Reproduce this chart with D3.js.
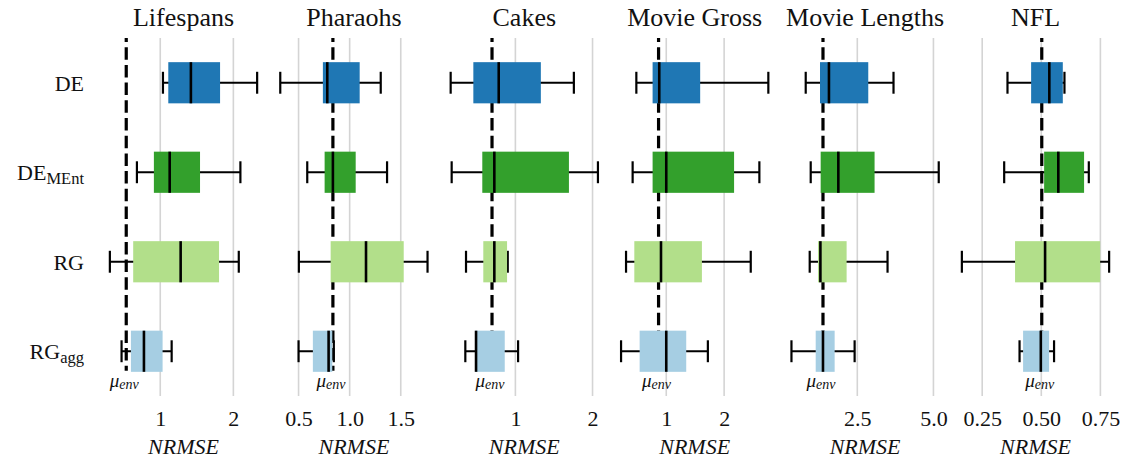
<!DOCTYPE html>
<html>
<head>
<meta charset="utf-8">
<script src="https://cdn.jsdelivr.net/npm/d3@7"></script>
<style>
  html, body { margin: 0; padding: 0; background: #fff; }
  svg { display: block; }
  svg text { font-family: "Liberation Serif", "Times New Roman", serif; }
</style>
</head>
<body>
<svg id="chart" width="1123" height="459" font-family="Liberation Serif"></svg>
<script>
// Methods (rows) and datasets (panels)
const methods = ["DE", "DE_MEnt", "RG", "RG_agg"];
const methodMain = ["DE", "DE", "RG", "RG"];
const methodSub = ["", "MEnt", "", "agg"];
const methodColors = ["#1f77b4", "#33a02c", "#b2df8a", "#a6cee3"];

const datasets = ["Lifespans", "Pharaohs", "Cakes", "Movie Gross", "Movie Lengths", "NFL"];

// Environment mean NRMSE per dataset (dashed reference line)
const muEnv = [0.535, 0.836, 0.697, 0.867, 1.373, 0.502];

// Tick values and their labels per dataset
const tickValues = [[1, 2], [0.5, 1.0, 1.5], [1, 2], [1, 2], [2.5, 5.0], [0.25, 0.5, 0.75]];
const tickLabels = [["1", "2"], ["0.5", "1.0", "1.5"], ["1", "2"], ["1", "2"], ["2.5", "5.0"], ["0.25", "0.50", "0.75"]];

// Box statistics per method: [lower whisker, Q1, median, Q3, upper whisker]
const lifespans = [
  [1.037, 1.110, 1.419, 1.818, 2.325],
  [0.681, 0.913, 1.129, 1.544, 2.096],
  [0.311, 0.630, 1.279, 1.804, 2.074],
  [0.471, 0.599, 0.777, 1.032, 1.156]
];
const pharaohs = [
  [0.321, 0.738, 0.781, 1.098, 1.304],
  [0.585, 0.755, 0.836, 1.059, 1.366],
  [0.503, 0.814, 1.160, 1.529, 1.762],
  [0.500, 0.640, 0.794, 0.830, 0.845]
];
const cakes = [
  [0.161, 0.455, 0.784, 1.330, 1.758],
  [0.174, 0.571, 0.727, 1.694, 2.070],
  [0.360, 0.584, 0.727, 0.892, 0.901],
  [0.351, 0.481, 0.490, 0.862, 1.035]
];
const movieGross = [
  [0.483, 0.764, 0.879, 1.586, 2.764],
  [0.419, 0.764, 1.000, 2.172, 2.609],
  [0.305, 0.448, 0.909, 1.616, 2.460],
  [0.219, 0.540, 1.000, 1.345, 1.719]
];
const movieLengths = [
  [0.806, 1.275, 1.569, 2.860, 3.689],
  [0.970, 1.297, 1.877, 3.067, 5.174],
  [0.937, 1.209, 1.288, 2.149, 3.493],
  [0.338, 1.134, 1.373, 1.756, 2.412]
];
const nfl = [
  [0.357, 0.457, 0.534, 0.591, 0.598],
  [0.343, 0.512, 0.572, 0.681, 0.701],
  [0.164, 0.389, 0.516, 0.749, 0.787],
  [0.408, 0.423, 0.498, 0.533, 0.554]
];
const stats = [lifespans, pharaohs, cakes, movieGross, movieLengths, nfl];

// ---- layout ----
const FONT = "Liberation Serif";
const svg = d3.select("#chart");
const panelLeft = 102.5, panelStep = 170.4, panelWidth = 162;
const plotTop = 38, plotBottom = 396;

const y = d3.scaleBand().domain(methods).range([plotTop, plotBottom]);
const bw = y.bandwidth();
const boxH = bw * 0.46;
const capH = bw * 0.245;
const yc = m => y(m) + bw / 2;

// Row labels with subscripts
const rowLabels = svg.append("g");
methods.forEach((m, i) => {
  const t = rowLabels.append("text")
    .attr("x", 84)
    .attr("y", yc(m) + 8)
    .attr("text-anchor", "end")
    .attr("font-family", FONT)
    .attr("font-size", 22)
    .attr("fill", "#111");
  t.append("tspan").text(methodMain[i]);
  if (methodSub[i]) {
    t.append("tspan").attr("font-size", 16.5).attr("dy", 4).text(methodSub[i]);
  }
});

datasets.forEach((name, p) => {
  const data = stats[p];
  const lo = d3.min(data, d => d[0]);
  const hi = d3.max(data, d => d[4]);
  const pad = (hi - lo) * 0.05;
  const x0 = panelLeft + p * panelStep;
  const x = d3.scaleLinear().domain([lo - pad, hi + pad]).range([x0, x0 + panelWidth]);

  const g = svg.append("g");

  // vertical grid lines at tick positions
  g.selectAll("line.grid").data(tickValues[p]).join("line")
    .attr("class", "grid")
    .attr("x1", d => x(d)).attr("x2", d => x(d))
    .attr("y1", plotTop).attr("y2", plotBottom)
    .attr("stroke", "#d4d4d4").attr("stroke-width", 1.6);

  // environment mean reference line
  g.append("line")
    .attr("x1", x(muEnv[p])).attr("x2", x(muEnv[p]))
    .attr("y1", plotTop).attr("y2", yc("RG_agg") + boxH / 2 - 1)
    .attr("stroke", "#000").attr("stroke-width", 3.2)
    .attr("stroke-dasharray", "12.5,5.2")
    .attr("stroke-dashoffset", 8.5);

  const rowsG = g.selectAll("g.row").data(data).join("g").attr("class", "row");

  // whiskers
  rowsG.append("line")
    .attr("x1", d => x(d[0])).attr("x2", d => x(d[4]))
    .attr("y1", (d, i) => yc(methods[i])).attr("y2", (d, i) => yc(methods[i]))
    .attr("stroke", "#000").attr("stroke-width", 2.2);
  rowsG.each(function (d, i) {
    const r = d3.select(this);
    [d[0], d[4]].forEach(v => {
      r.append("line")
        .attr("x1", x(v)).attr("x2", x(v))
        .attr("y1", yc(methods[i]) - capH / 2).attr("y2", yc(methods[i]) + capH / 2)
        .attr("stroke", "#000").attr("stroke-width", 2.2);
    });
  });

  // boxes
  rowsG.append("rect")
    .attr("x", d => x(d[1]))
    .attr("width", d => x(d[3]) - x(d[1]))
    .attr("y", (d, i) => yc(methods[i]) - boxH / 2)
    .attr("height", boxH)
    .attr("fill", (d, i) => methodColors[i]);

  // medians
  rowsG.append("line")
    .attr("x1", d => x(d[2])).attr("x2", d => x(d[2]))
    .attr("y1", (d, i) => yc(methods[i]) - boxH / 2)
    .attr("y2", (d, i) => yc(methods[i]) + boxH / 2)
    .attr("stroke", "#000").attr("stroke-width", 2.6);

  // mu_env label
  const mu = g.append("text")
    .attr("x", x(muEnv[p]) - 2)
    .attr("y", 387)
    .attr("text-anchor", "middle")
    .attr("font-family", FONT)
    .attr("font-style", "italic")
    .attr("fill", "#111");
  mu.append("tspan").attr("font-size", 19).text("μ");
  mu.append("tspan").attr("font-size", 14).attr("dy", 1.5).text("env");

  // x axis
  const axis = d3.axisBottom(x)
    .tickValues(tickValues[p])
    .tickFormat((d, i) => tickLabels[p][i])
    .tickSize(0)
    .tickPadding(14.5);
  const ax = g.append("g").attr("transform", `translate(0,${plotBottom})`).call(axis)
    .attr("font-family", FONT).attr("font-size", 22);
  ax.select(".domain").remove();
  ax.selectAll("text")
    .attr("font-family", FONT)
    .attr("font-size", 22)
    .attr("fill", "#111");

  // axis title
  g.append("text")
    .attr("x", x0 + panelWidth / 2)
    .attr("y", 454)
    .attr("text-anchor", "middle")
    .attr("font-family", FONT)
    .attr("font-style", "italic")
    .attr("font-size", 22)
    .attr("fill", "#111")
    .text("NRMSE");

  // panel title
  g.append("text")
    .attr("x", x0 + panelWidth / 2)
    .attr("y", 26)
    .attr("text-anchor", "middle")
    .attr("font-family", FONT)
    .attr("font-size", 26)
    .attr("fill", "#111")
    .text(name);
});
</script>
</body>
</html>
